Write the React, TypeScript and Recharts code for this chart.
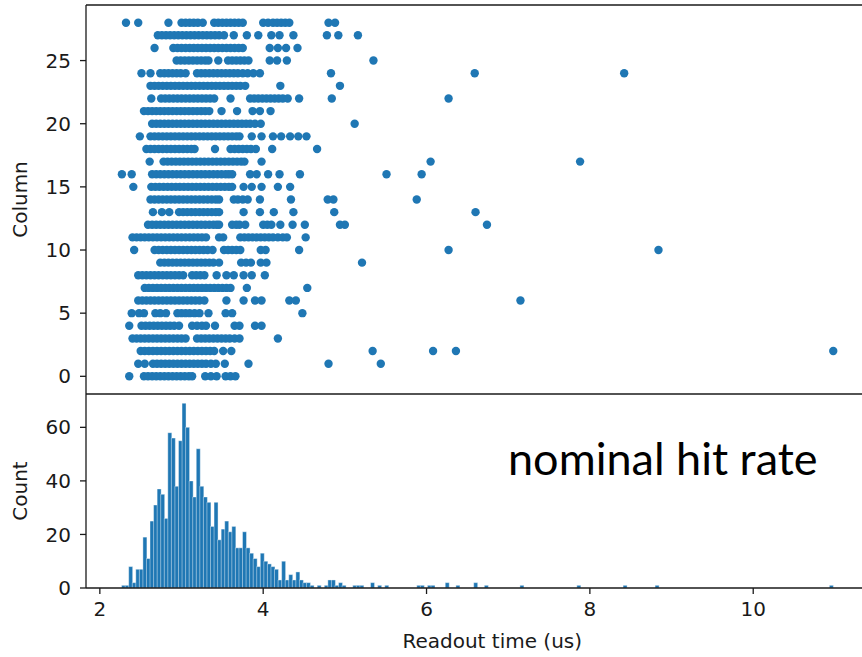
import { ScatterChart, Scatter, BarChart, Bar, XAxis, YAxis } from "recharts";

// readout times (us) of the hits seen in each column
const col0 = [2.36, 2.54, 2.59, 2.64, 2.69, 2.74, 2.79, 2.84, 2.89, 2.94, 2.99, 3.04, 3.09, 3.13, 3.29, 3.36, 3.43, 3.54, 3.6, 3.66];
const col1 = [2.47, 2.55, 2.65, 2.7, 2.75, 2.8, 2.85, 2.9, 2.95, 3.0, 3.05, 3.1, 3.15, 3.2, 3.25, 3.3, 3.36, 3.42, 3.53, 3.82, 4.8, 5.44];
const col2 = [2.5, 2.55, 2.6, 2.65, 2.7, 2.75, 2.8, 2.85, 2.9, 2.95, 3.0, 3.05, 3.1, 3.15, 3.2, 3.25, 3.3, 3.35, 3.4, 3.51, 3.61, 5.34, 6.08, 6.36, 10.98];
const col3 = [2.4, 2.45, 2.5, 2.55, 2.6, 2.65, 2.7, 2.75, 2.8, 2.85, 2.9, 2.95, 3.0, 3.05, 3.19, 3.24, 3.29, 3.34, 3.39, 3.44, 3.49, 3.54, 3.59, 3.65, 3.71, 4.18];
const col4 = [2.36, 2.51, 2.56, 2.61, 2.66, 2.71, 2.76, 2.81, 2.86, 2.91, 2.97, 3.13, 3.19, 3.25, 3.3, 3.41, 3.65, 3.71, 3.9, 3.98];
const col5 = [2.39, 2.48, 2.54, 2.68, 2.74, 2.81, 2.95, 3.0, 3.05, 3.1, 3.16, 3.22, 3.33, 3.54, 3.62, 4.48];
const col6 = [2.47, 2.52, 2.57, 2.62, 2.67, 2.72, 2.77, 2.82, 2.87, 2.92, 2.97, 3.02, 3.07, 3.12, 3.17, 3.22, 3.28, 3.55, 3.76, 3.9, 3.98, 4.32, 4.4, 7.15];
const col7 = [2.55, 2.6, 2.65, 2.7, 2.75, 2.8, 2.85, 2.9, 2.95, 3.0, 3.05, 3.1, 3.15, 3.2, 3.25, 3.3, 3.35, 3.4, 3.45, 3.5, 3.55, 3.6, 3.8, 4.54];
const col8 = [2.47, 2.52, 2.57, 2.62, 2.67, 2.72, 2.77, 2.82, 2.87, 2.92, 2.97, 3.02, 3.13, 3.18, 3.23, 3.28, 3.43, 3.55, 3.64, 3.76, 3.86, 4.02];
const col9 = [2.74, 2.79, 2.84, 2.89, 2.94, 2.99, 3.04, 3.09, 3.14, 3.19, 3.24, 3.29, 3.34, 3.39, 3.46, 3.73, 3.79, 3.85, 3.97, 4.04, 5.21];
const col10 = [2.42, 2.67, 2.72, 2.77, 2.82, 2.87, 2.92, 2.97, 3.02, 3.07, 3.12, 3.17, 3.22, 3.27, 3.32, 3.38, 3.52, 3.57, 3.62, 3.67, 3.72, 3.97, 4.03, 4.44, 6.27, 8.84];
const col11 = [2.4, 2.45, 2.5, 2.55, 2.6, 2.65, 2.7, 2.75, 2.8, 2.85, 2.9, 2.95, 3.0, 3.05, 3.1, 3.15, 3.2, 3.25, 3.3, 3.46, 3.51, 3.72, 3.77, 3.82, 3.87, 3.92, 3.97, 4.02, 4.07, 4.12, 4.18, 4.24, 4.29, 4.52];
const col12 = [2.59, 2.64, 2.69, 2.74, 2.79, 2.84, 2.89, 2.94, 2.99, 3.04, 3.09, 3.14, 3.19, 3.24, 3.29, 3.34, 3.39, 3.43, 3.46, 3.62, 3.67, 3.71, 3.78, 4.0, 4.05, 4.1, 4.21, 4.36, 4.51, 4.94, 5.0, 6.74];
const col13 = [2.65, 2.76, 2.85, 2.97, 3.02, 3.07, 3.12, 3.17, 3.22, 3.27, 3.32, 3.37, 3.42, 3.46, 3.76, 3.96, 4.13, 4.37, 4.87, 6.6];
const col14 = [2.62, 2.67, 2.72, 2.77, 2.82, 2.87, 2.92, 2.97, 3.02, 3.07, 3.12, 3.17, 3.22, 3.27, 3.32, 3.37, 3.42, 3.46, 3.64, 3.69, 3.75, 3.81, 3.96, 4.34, 4.79, 4.86, 5.88];
const col15 = [2.41, 2.63, 2.68, 2.73, 2.78, 2.83, 2.88, 2.93, 2.98, 3.03, 3.08, 3.13, 3.18, 3.23, 3.28, 3.33, 3.38, 3.43, 3.48, 3.53, 3.58, 3.62, 3.76, 3.86, 3.98, 4.18, 4.33];
const col16 = [2.27, 2.39, 2.64, 2.69, 2.74, 2.79, 2.84, 2.89, 2.94, 2.99, 3.04, 3.09, 3.14, 3.19, 3.24, 3.29, 3.34, 3.39, 3.44, 3.49, 3.54, 3.58, 3.62, 3.84, 3.92, 4.06, 4.2, 4.45, 5.51, 5.94];
const col17 = [2.61, 2.78, 2.83, 2.88, 2.93, 2.98, 3.03, 3.08, 3.13, 3.18, 3.23, 3.28, 3.33, 3.38, 3.43, 3.48, 3.53, 3.58, 3.63, 3.68, 3.73, 3.77, 3.98, 6.05, 7.88];
const col18 = [2.57, 2.62, 2.67, 2.72, 2.77, 2.82, 2.87, 2.92, 2.97, 3.02, 3.07, 3.12, 3.16, 3.41, 3.6, 3.65, 3.7, 3.75, 3.8, 3.85, 3.91, 4.11, 4.66];
const col19 = [2.49, 2.62, 2.67, 2.72, 2.77, 2.82, 2.87, 2.92, 2.97, 3.02, 3.07, 3.12, 3.17, 3.22, 3.27, 3.32, 3.37, 3.42, 3.47, 3.52, 3.57, 3.62, 3.67, 3.71, 3.86, 3.98, 4.12, 4.22, 4.33, 4.43, 4.53];
const col20 = [2.64, 2.69, 2.74, 2.79, 2.84, 2.89, 2.94, 2.99, 3.04, 3.09, 3.14, 3.19, 3.24, 3.29, 3.34, 3.39, 3.44, 3.49, 3.54, 3.59, 3.64, 3.69, 3.74, 3.79, 3.84, 3.9, 3.97, 5.12];
const col21 = [2.54, 2.59, 2.64, 2.69, 2.74, 2.79, 2.84, 2.89, 2.94, 2.99, 3.04, 3.09, 3.14, 3.19, 3.24, 3.29, 3.34, 3.49, 3.68, 3.87, 3.96, 4.09];
const col22 = [2.63, 2.75, 2.8, 2.85, 2.9, 2.95, 3.0, 3.05, 3.1, 3.15, 3.2, 3.25, 3.3, 3.35, 3.4, 3.6, 3.84, 3.89, 3.94, 3.99, 4.04, 4.09, 4.14, 4.19, 4.24, 4.3, 4.44, 4.84, 6.27];
const col23 = [2.62, 2.67, 2.72, 2.77, 2.82, 2.87, 2.92, 2.97, 3.02, 3.07, 3.12, 3.17, 3.22, 3.27, 3.32, 3.37, 3.42, 3.47, 3.52, 3.57, 3.62, 3.67, 3.72, 3.78, 4.21, 4.94];
const col24 = [2.51, 2.62, 2.74, 2.79, 2.84, 2.89, 2.94, 2.99, 3.05, 3.19, 3.24, 3.29, 3.34, 3.39, 3.44, 3.49, 3.54, 3.59, 3.64, 3.69, 3.75, 3.81, 3.88, 3.96, 4.83, 6.59, 8.42];
const col25 = [2.94, 2.99, 3.04, 3.09, 3.14, 3.19, 3.24, 3.29, 3.33, 3.45, 3.57, 3.62, 3.67, 3.72, 3.77, 3.82, 4.08, 4.17, 4.29, 5.35];
const col26 = [2.67, 2.9, 2.95, 3.0, 3.05, 3.1, 3.15, 3.2, 3.25, 3.3, 3.35, 3.4, 3.45, 3.5, 3.55, 3.6, 3.65, 3.7, 3.75, 4.08, 4.18, 4.28, 4.42];
const col27 = [2.71, 2.76, 2.81, 2.86, 2.91, 2.96, 3.01, 3.06, 3.11, 3.16, 3.21, 3.26, 3.31, 3.36, 3.41, 3.46, 3.52, 3.64, 3.8, 3.94, 4.1, 4.2, 4.37, 4.78, 4.92, 5.16];
const col28 = [2.32, 2.47, 2.84, 3.0, 3.05, 3.1, 3.15, 3.2, 3.26, 3.4, 3.45, 3.5, 3.55, 3.6, 3.65, 3.7, 3.75, 4.0, 4.06, 4.12, 4.17, 4.22, 4.27, 4.32, 4.8, 4.88];

const columns = [
  col0, col1, col2, col3, col4, col5, col6, col7, col8, col9,
  col10, col11, col12, col13, col14, col15, col16, col17, col18, col19,
  col20, col21, col22, col23, col24, col25, col26, col27, col28,
];

// histogram: 200 bins from binStart, width binWidth
const binStart = 2.266;
const binWidth = 0.04355;
const binCount = 200;
const histCounts = [
  1, 1, 8, 2, 7, 7, 19, 11, 25, 31, 37, 35, 26, 58, 56, 38, 55, 69, 60, 40,
  34, 52, 38, 34, 32, 23, 32, 18, 22, 25, 21, 23, 15, 15, 21, 15, 13, 11, 8, 13,
  10, 9, 8, 7, 3, 10, 3, 5, 3, 6, 3, 2, 2, 1, 0,
];
const tailBins = [55, 57, 58, 59, 60, 61, 62, 65, 66, 67, 70, 72, 74, 83, 84, 86, 87, 91, 94, 99, 102, 112, 128, 141, 150, 199];
const tailCounts = [1, 1, 3, 3, 1, 2, 1, 1, 1, 1, 2, 1, 1, 1, 1, 1, 1, 2, 1, 2, 1, 1, 1, 1, 1, 1];

const columnTicks = [0, 5, 10, 15, 20, 25];
const countTicks = [0, 20, 40, 60];
const timeTicks = [2, 4, 6, 8, 10];

const scatterData = columns.flatMap((xs, col) => xs.map((t) => ({ t, col })));

const histData = Array.from({ length: binCount }, (_, i) => {
  const k = tailBins.indexOf(i);
  return {
    t: binStart + (i + 0.5) * binWidth,
    count: i < histCounts.length ? histCounts[i] : k >= 0 ? tailCounts[k] : 0,
  };
});

const lo = binStart;
const hi = binStart + binCount * binWidth;
const xDomain: [number, number] = [lo - 0.05 * (hi - lo), hi + 0.05 * (hi - lo)];
const maxCount = Math.max(...histData.map((d) => d.count));

const BLUE = "#1f77b4";
const INK = "#1a1a1a";
const FONT = "DejaVu Sans";
const FS = 20;
const tickStyle = { fill: INK, fontSize: FS, fontFamily: FONT };
const spine = { stroke: INK, strokeWidth: 1.3 };

const Dot = (p: any) => <circle cx={p.cx} cy={p.cy} r={4.2} fill={BLUE} />;

const YTitle = (text: string) => (p: any) => {
  const vb = p.viewBox;
  const cx = 20;
  const cy = vb.y + vb.height / 2;
  return (
    <text x={cx} y={cy} transform={`rotate(-90 ${cx} ${cy})`} textAnchor="middle" dominantBaseline="central"
      fill={INK} fontSize={FS} fontFamily={FONT}>
      {text}
    </text>
  );
};

// the original axes run past the cropped right edge, so its label sits right of the visible centre
const XTitle = (p: any) => {
  const vb = p.viewBox;
  return (
    <text x={vb.x + vb.width / 2 + 15} y={vb.y + 53} textAnchor="middle" dominantBaseline="central"
      fill={INK} fontSize={FS} fontFamily={FONT}>
      Readout time (us)
    </text>
  );
};

export default function App() {
  return (
    <div style={{ position: "absolute", left: 0, top: 0, width: 862, height: 657, overflow: "hidden", background: "#fff" }}>
      <div style={{ position: "absolute", left: 0, top: 0 }}>
        <ScatterChart width={870} height={394} margin={{ top: 4, right: 1.5, bottom: 0, left: 0 }}>
          <XAxis xAxisId="x" dataKey="t" type="number" domain={xDomain} hide allowDataOverflow />
          <XAxis xAxisId="top" orientation="top" type="number" domain={xDomain} height={1} tick={false} tickLine={false} axisLine={spine} allowDataOverflow />
          <YAxis dataKey="col" type="number" domain={[-1.4, 29.4]} ticks={columnTicks} width={86}
            tick={tickStyle} tickSize={6} tickMargin={9} axisLine={spine} tickLine={spine}
            label={{ content: YTitle("Column") }} />
          <Scatter xAxisId="x" data={scatterData} shape={Dot} isAnimationActive={false} />
        </ScatterChart>
      </div>
      <div style={{ position: "absolute", left: 0, top: 393 }}>
        <BarChart width={870} height={264} data={histData} barCategoryGap={0} barGap={0}
          margin={{ top: 0, right: 1.5, bottom: 0, left: 0 }}>
          <XAxis xAxisId="x" dataKey="t" type="number" domain={xDomain} ticks={timeTicks} height={69}
            tick={tickStyle} tickSize={6} tickMargin={8} axisLine={spine} tickLine={spine}
            label={{ content: XTitle }} allowDataOverflow />
          <XAxis xAxisId="top" orientation="top" type="number" domain={xDomain} height={1} tick={false} tickLine={false} axisLine={spine} allowDataOverflow />
          <YAxis type="number" domain={[0, maxCount * 1.05]} ticks={countTicks} width={86}
            tick={tickStyle} tickSize={6} tickMargin={9} axisLine={spine} tickLine={spine}
            label={{ content: YTitle("Count") }} />
          <Bar xAxisId="x" dataKey="count" fill={BLUE} stroke="#ffffff" strokeWidth={0.4} isAnimationActive={false} />
        </BarChart>
      </div>
      <svg style={{ position: "absolute", left: 0, top: 0 }} width={862} height={657}>
        <text x={508} y={475} fontSize={45} fontFamily="Lato" fill="#000">nominal hit rate</text>
      </svg>
    </div>
  );
}
